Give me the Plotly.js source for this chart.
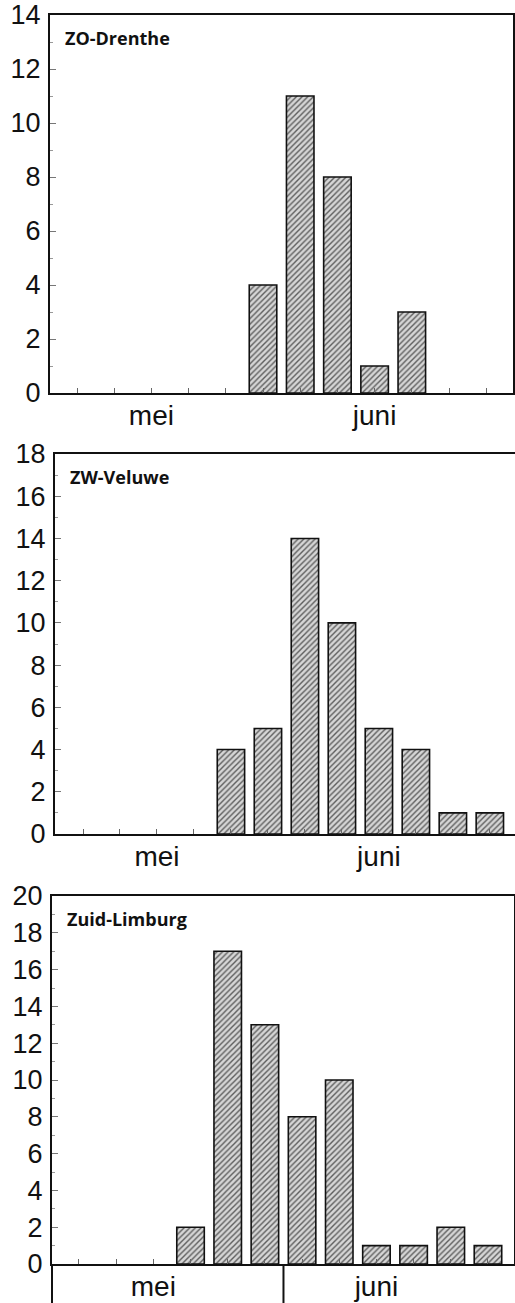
<!DOCTYPE html>
<html>
<head>
<meta charset="utf-8">
<script src="https://cdn.plot.ly/plotly-3.0.1.min.js"></script>
<style>
  html, body { margin: 0; padding: 0; background: #fff; }
  #chart { width: 515px; height: 1303px; }
</style>
</head>
<body>
<div id="chart"></div>
<script>
// Five-day periods (pentades) from early May to late June
const pentades = [1, 2, 3, 4, 5, 6, 7, 8, 9, 10, 11, 12];
const monthNames = ['mei', 'juni'];
const monthLabelAt = [3, 9];

const regions = ['ZO-Drenthe', 'ZW-Veluwe', 'Zuid-Limburg'];
const countsDrenthe = [0, 0, 0, 0, 0, 4, 11, 8, 1, 3, 0, 0];
const countsVeluwe  = [0, 0, 0, 0, 4, 5, 14, 10, 5, 4, 1, 1];
const countsLimburg = [0, 0, 0, 2, 17, 13, 8, 10, 1, 1, 2, 1];
const yMax = [14, 18, 20];

const W = 515, H = 1303;
// panel frames in pixels: [left, right, top, bottom]
const frames = [
  [50, 513, 15, 393],
  [55, 515, 454, 834],
  [52, 514, 896, 1264]
];
// x ranges so that pentade centres line up with the frame
const xRanges = [
  [0.274, 12.72],
  [0.243, 12.68],
  [0.274, 12.70]
];

const tickText = pentades.map(p => {
  const i = monthLabelAt.indexOf(p);
  return i >= 0 ? monthNames[i] : '';
});

const series = [countsDrenthe, countsVeluwe, countsLimburg];
const font = { family: 'Liberation Sans, Arial, sans-serif', size: 27, color: '#111' };

const traces = series.map((vals, i) => ({
  type: 'bar',
  x: pentades,
  y: vals,
  xaxis: i === 0 ? 'x' : 'x' + (i + 1),
  yaxis: i === 0 ? 'y' : 'y' + (i + 1),
  width: 0.74,
  marker: {
    color: '#d0d0d0',
    // empty pentades get no outline, so nothing is drawn on the baseline
    line: { color: '#111', width: vals.map(v => (v > 0 ? 1.6 : 0)) },
    pattern: { shape: '/', size: 4, solidity: 0.35, fgcolor: '#5e5e5e', bgcolor: '#d6d6d6' }
  },
  hoverinfo: 'x+y',
  showlegend: false
}));

const layout = {
  width: W, height: H, autosize: false,
  margin: { l: 0, r: 0, t: 0, b: 0, pad: 0 },
  paper_bgcolor: '#fff', plot_bgcolor: '#fff',
  font: font,
  bargap: 0,
  annotations: [],
  shapes: []
};

frames.forEach((f, i) => {
  const sx = i === 0 ? '' : String(i + 1);
  layout['xaxis' + sx] = {
    domain: [f[0] / W, f[1] / W],
    anchor: 'y' + sx,
    range: xRanges[i],
    tickmode: 'array',
    tickvals: pentades,
    ticktext: tickText,
    ticks: 'inside', ticklen: 5, tickwidth: 1, tickcolor: '#666',
    ticklabelstandoff: -4,
    showline: true, linecolor: '#111', linewidth: 2, mirror: true,
    showgrid: false, zeroline: false, fixedrange: true,
    tickfont: { family: font.family, size: 28, color: '#111' }
  };
  layout['yaxis' + sx] = {
    domain: [1 - f[3] / H, 1 - f[2] / H],
    anchor: 'x' + sx,
    range: [0, yMax[i]],
    dtick: 2, tick0: 0,
    ticks: 'inside', ticklen: 6, tickwidth: 1, tickcolor: '#777',
    minor: { dtick: 1, tick0: 0, ticks: 'inside', ticklen: 3, tickwidth: 1, tickcolor: '#999' },
    ticklabelstandoff: 2,
    showline: true, linecolor: '#111', linewidth: 2, mirror: true,
    showgrid: false, zeroline: false, fixedrange: true,
    tickfont: { family: font.family, size: 27, color: '#111' }
  };
  layout.annotations.push({
    text: regions[i],
    xref: 'x' + sx + ' domain', yref: 'y' + sx + ' domain',
    x: 0, y: 1, xanchor: 'left', yanchor: 'top',
    xshift: 13, yshift: -9,
    showarrow: false,
    font: { family: 'Open Sans, Noto Sans, sans-serif', size: 18, color: '#111', weight: 'bold' }
  });
});

// month row below the Zuid-Limburg panel
const f3 = frames[2];
layout.shapes.push({
  type: 'line', xref: 'paper', yref: 'paper',
  x0: f3[0] / W, x1: f3[0] / W, y0: 0, y1: 1 - f3[3] / H,
  line: { color: '#111', width: 2 }
});
layout.shapes.push({
  type: 'line', xref: 'x3', yref: 'paper',
  x0: 6.5, x1: 6.5, y0: 0, y1: 1 - f3[3] / H,
  line: { color: '#111', width: 2 }
});

Plotly.newPlot('chart', traces, layout, { staticPlot: true });
</script>
</body>
</html>
